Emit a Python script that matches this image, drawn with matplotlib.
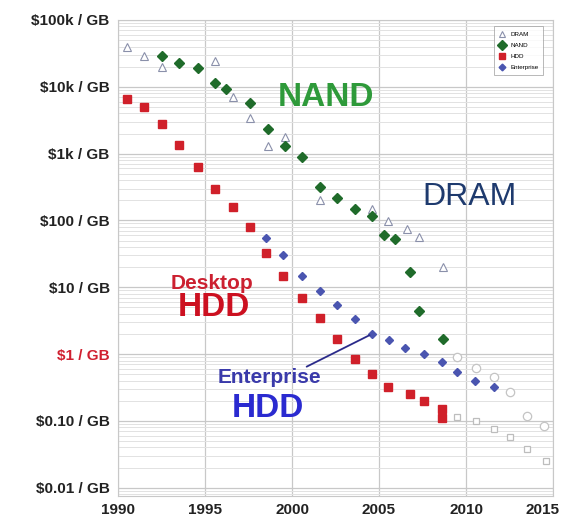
import matplotlib.pyplot as plt
import matplotlib.ticker as mticker
import matplotlib.transforms as mtransforms

# Price per GB over time
dram_year = [1990.5, 1991.5, 1992.5, 1995.6, 1996.6, 1997.6, 1998.6, 1999.6, 2001.6,
             2004.6, 2005.5, 2006.6, 2007.3, 2008.7]
dram_price = [40000, 29000, 20000, 24500, 7100, 3450, 1280, 1800, 200, 150, 97, 74, 57, 20]

nand_year = [1992.5, 1993.5, 1994.6, 1995.6, 1996.2, 1997.6, 1998.6, 1999.6, 2000.6,
             2001.6, 2002.6, 2003.6, 2004.6, 2005.3, 2005.9, 2006.8, 2007.3, 2008.7]
nand_price = [29000, 23000, 19000, 11500, 9300, 5800, 2350, 1280, 900,
              315, 215, 150, 118, 61, 52, 17, 4.4, 1.7]

hdd_year = [1990.5, 1991.5, 1992.5, 1993.5, 1994.6, 1995.6, 1996.6, 1997.6, 1998.5, 1999.5,
            2000.6, 2001.6, 2002.6, 2003.6, 2004.6, 2005.5, 2006.8, 2007.6, 2008.6, 2008.6]
hdd_price = [6600, 5000, 2800, 1350, 640, 300, 160, 81, 33, 14.5,
             6.9, 3.5, 1.7, 0.85, 0.50, 0.32, 0.25, 0.20, 0.15, 0.11]
hdd_proj_year = [2009.5, 2010.6, 2011.6, 2012.5, 2013.5, 2014.6]
hdd_proj_price = [0.115, 0.098, 0.076, 0.058, 0.038, 0.025]

ent_year = [1998.5, 1999.5, 2000.6, 2001.6, 2002.6, 2003.6, 2004.6, 2005.6, 2006.5,
            2007.6, 2008.6, 2009.5, 2010.5, 2011.6]
ent_price = [54, 30, 14.5, 8.7, 5.4, 3.3, 2.0, 1.6, 1.25, 1.0, 0.76, 0.53, 0.40, 0.32]
ent_proj_year = [2009.5, 2010.6, 2011.6, 2012.5, 2013.5, 2014.5]
ent_proj_price = [0.9, 0.62, 0.45, 0.27, 0.12, 0.085]

ytick_vals = [1e5, 1e4, 1e3, 100, 10, 1, 0.1, 0.01]
ytick_labels = ["$100k / GB", "$10k / GB", "$1k / GB", "$100 / GB", "$10 / GB",
                "$1 / GB", "$0.10 / GB", "$0.01 / GB"]
xtick_vals = [1990, 1995, 2000, 2005, 2010, 2015]

plt.rcParams['font.family'] = ['Liberation Sans', 'DejaVu Sans']

fig = plt.figure(figsize=(5.66, 5.18), dpi=100)
ax = fig.add_axes([118 / 566, 1 - 496 / 518, (553 - 118) / 566, (496 - 20) / 518])

ax.set_yscale('log')
ax.set_xlim(1990, 2015)
ax.set_ylim(0.0075, 1e5)

# grid
ax.yaxis.set_minor_locator(mticker.LogLocator(base=10, subs=range(2, 10)))
ax.grid(True, which='major', axis='both', color='#c8c8c8', linewidth=0.9)
ax.grid(True, which='minor', axis='y', color='#e2e2e2', linewidth=0.7)
ax.set_axisbelow(True)
for s in ax.spines.values():
    s.set_color('#c8c8c8')

# series
ax.plot(hdd_proj_year, hdd_proj_price, 's', ms=5, mfc='white', mec='#bdbdbd', mew=0.9, ls='none')
ax.plot(ent_proj_year, ent_proj_price, 'o', ms=6, mfc='white', mec='#c4c4c4', mew=0.9, ls='none')
ax.plot(dram_year, dram_price, '^', ms=5.5, mfc='white', mec='#8a90aa', mew=0.8, ls='none', label='DRAM')
ax.plot(nand_year, nand_price, 'D', ms=5.5, color='#1f6b2a', mec='#1f6b2a', ls='none', label='NAND')
ax.plot(hdd_year, hdd_price, 's', ms=5.5, color='#d0202a', ls='none', label='HDD')
ax.plot(ent_year, ent_price, 'D', ms=3.8, color='#4a55b0', ls='none', label='Enterprise')

# ticks
ax.set_xticks(xtick_vals)
ax.set_xticklabels([str(v) for v in xtick_vals], fontsize=11, fontweight='bold', color='#222222')
ax.set_yticks(ytick_vals)
ax.set_yticklabels(ytick_labels, fontsize=11, fontweight='bold', color='#222222')
ax.get_yticklabels()[5].set_color('#d02030')
ax.tick_params(axis='both', which='both', length=0, pad=6)
ax.tick_params(axis='x', pad=5)
ax.yaxis.set_minor_formatter(mticker.NullFormatter())
# last year label sits a bit left so it stays inside the picture
last = ax.get_xticklabels()[-1]
last.set_transform(last.get_transform() + mtransforms.ScaledTranslation(-0.11, 0, fig.dpi_scale_trans))

# labels on the plot
ax.text(2001.95, 6800, "NAND", fontsize=24, fontweight='bold', color='#2e9a3a', ha='center', va='center')
ax.text(2010.2, 225, "DRAM", fontsize=23, color='#1e3a6e', ha='center', va='center')
ax.text(1995.4, 11.5, "Desktop", fontsize=15, fontweight='bold', color='#cc2030', ha='center', va='center')
ax.text(1995.5, 4.9, "HDD", fontsize=24, fontweight='bold', color='#cc1020', ha='center', va='center')
ax.text(1998.7, 0.44, "Enterprise", fontsize=15, fontweight='bold', color='#3a3aaa', ha='center', va='center')
ax.text(1998.6, 0.155, "HDD", fontsize=24, fontweight='bold', color='#2a2ad0', ha='center', va='center')
ax.annotate("", xy=(2004.6, 2.0), xytext=(2000.7, 0.62),
            arrowprops=dict(arrowstyle='-', color='#2a2a8a', lw=1.3))

leg = ax.legend(loc='upper right', fontsize=4.5, frameon=True, fancybox=False,
                borderpad=0.8, handlelength=1, labelspacing=0.9, markerscale=0.9,
                bbox_to_anchor=(0.985, 0.993))
leg.get_frame().set_edgecolor('#999999')
leg.get_frame().set_linewidth(0.6)

fig.savefig("out.png", dpi=100)
